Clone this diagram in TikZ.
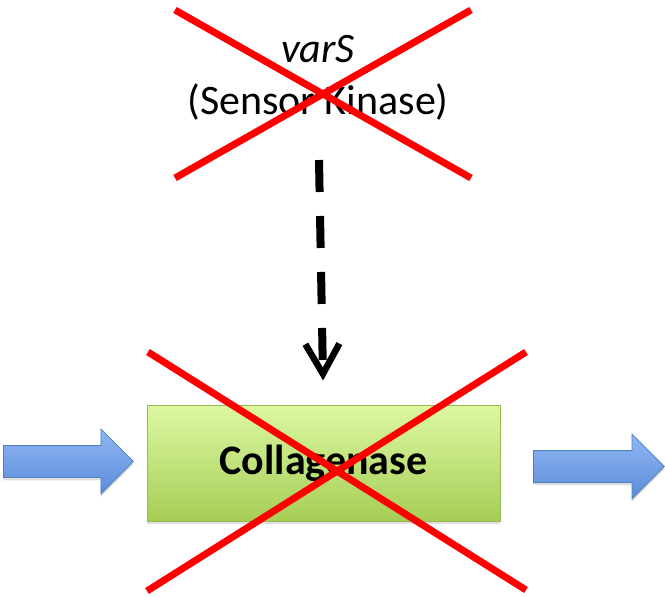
\documentclass[tikz,border=0pt]{standalone}
\usepackage{fontspec}
\setmainfont{Carlito}
\usetikzlibrary{arrows.meta,shapes.arrows,shadows}

\tikzset{
  greenbox/.style={line width=1pt,
    top color={rgb,255:red,220;green,248;blue,162},
    bottom color={rgb,255:red,166;green,206;blue,86},
    draw={rgb,255:red,150;green,186;blue,80},
    minimum width=353pt, minimum height=116pt, inner sep=0pt,
    font=\fontsize{42}{50}\selectfont\bfseries,
    drop shadow={opacity=0.25, shadow xshift=0pt, shadow yshift=-3pt}},
  bluearrow/.style={single arrow, inner xsep=0pt, inner ysep=15.5pt,
    single arrow head extend=16.5pt, single arrow head indent=0pt,
    top color={rgb,255:red,143;green,183;blue,243},
    bottom color={rgb,255:red,92;green,140;blue,218},
    draw={rgb,255:red,79;green,129;blue,189}, line width=0.8pt,
    drop shadow={opacity=0.25, shadow xshift=0pt, shadow yshift=-3pt}},
  label text/.style={align=center, inner sep=0pt,
    font=\fontsize{42}{52}\selectfont},
  signal/.style={line width=8pt, dash pattern=on 32pt off 24pt,
    -{Straight Barb[length=30pt,width=34pt,line width=6.5pt]}},
  strike/.style={draw={rgb,255:red,255;green,0;blue,0}, line width=7pt}
}

\begin{document}
\begin{tikzpicture}[x=1pt,y=-1pt]
\useasboundingbox (0,0) rectangle (665,597);

% input and output arrows
\node[bluearrow, minimum height=130pt, anchor=tail] (inflow) at (3,461.5) {};
\node[bluearrow, minimum height=131pt, anchor=tail] (outflow) at (533,466.5) {};

% enzyme box
\node[greenbox] (coll) at (323.5,463) {Collagenase};

% sensor kinase label
\node[label text] (sensor) at (318,78) {\itshape varS\\(Sensor Kinase)};

% dashed regulatory arrow
\coordinate (dashstart) at (319,160);
\draw[signal, shorten >=24pt] (dashstart) -- (coll.north);

% strike-through crosses
\coordinate (ta) at (175,10);
\coordinate (tb) at (471,178);
\coordinate (tc) at (175,178);
\coordinate (td) at (471,10);
\draw[strike] (ta) -- (tb);
\draw[strike] (tc) -- (td);

\coordinate (ba) at (148,352);
\coordinate (bb) at (526,590);
\coordinate (bc) at (147,591);
\coordinate (bd) at (526,352);
\draw[strike] (ba) -- (bb);
\draw[strike] (bc) -- (bd);
\end{tikzpicture}
\end{document}
